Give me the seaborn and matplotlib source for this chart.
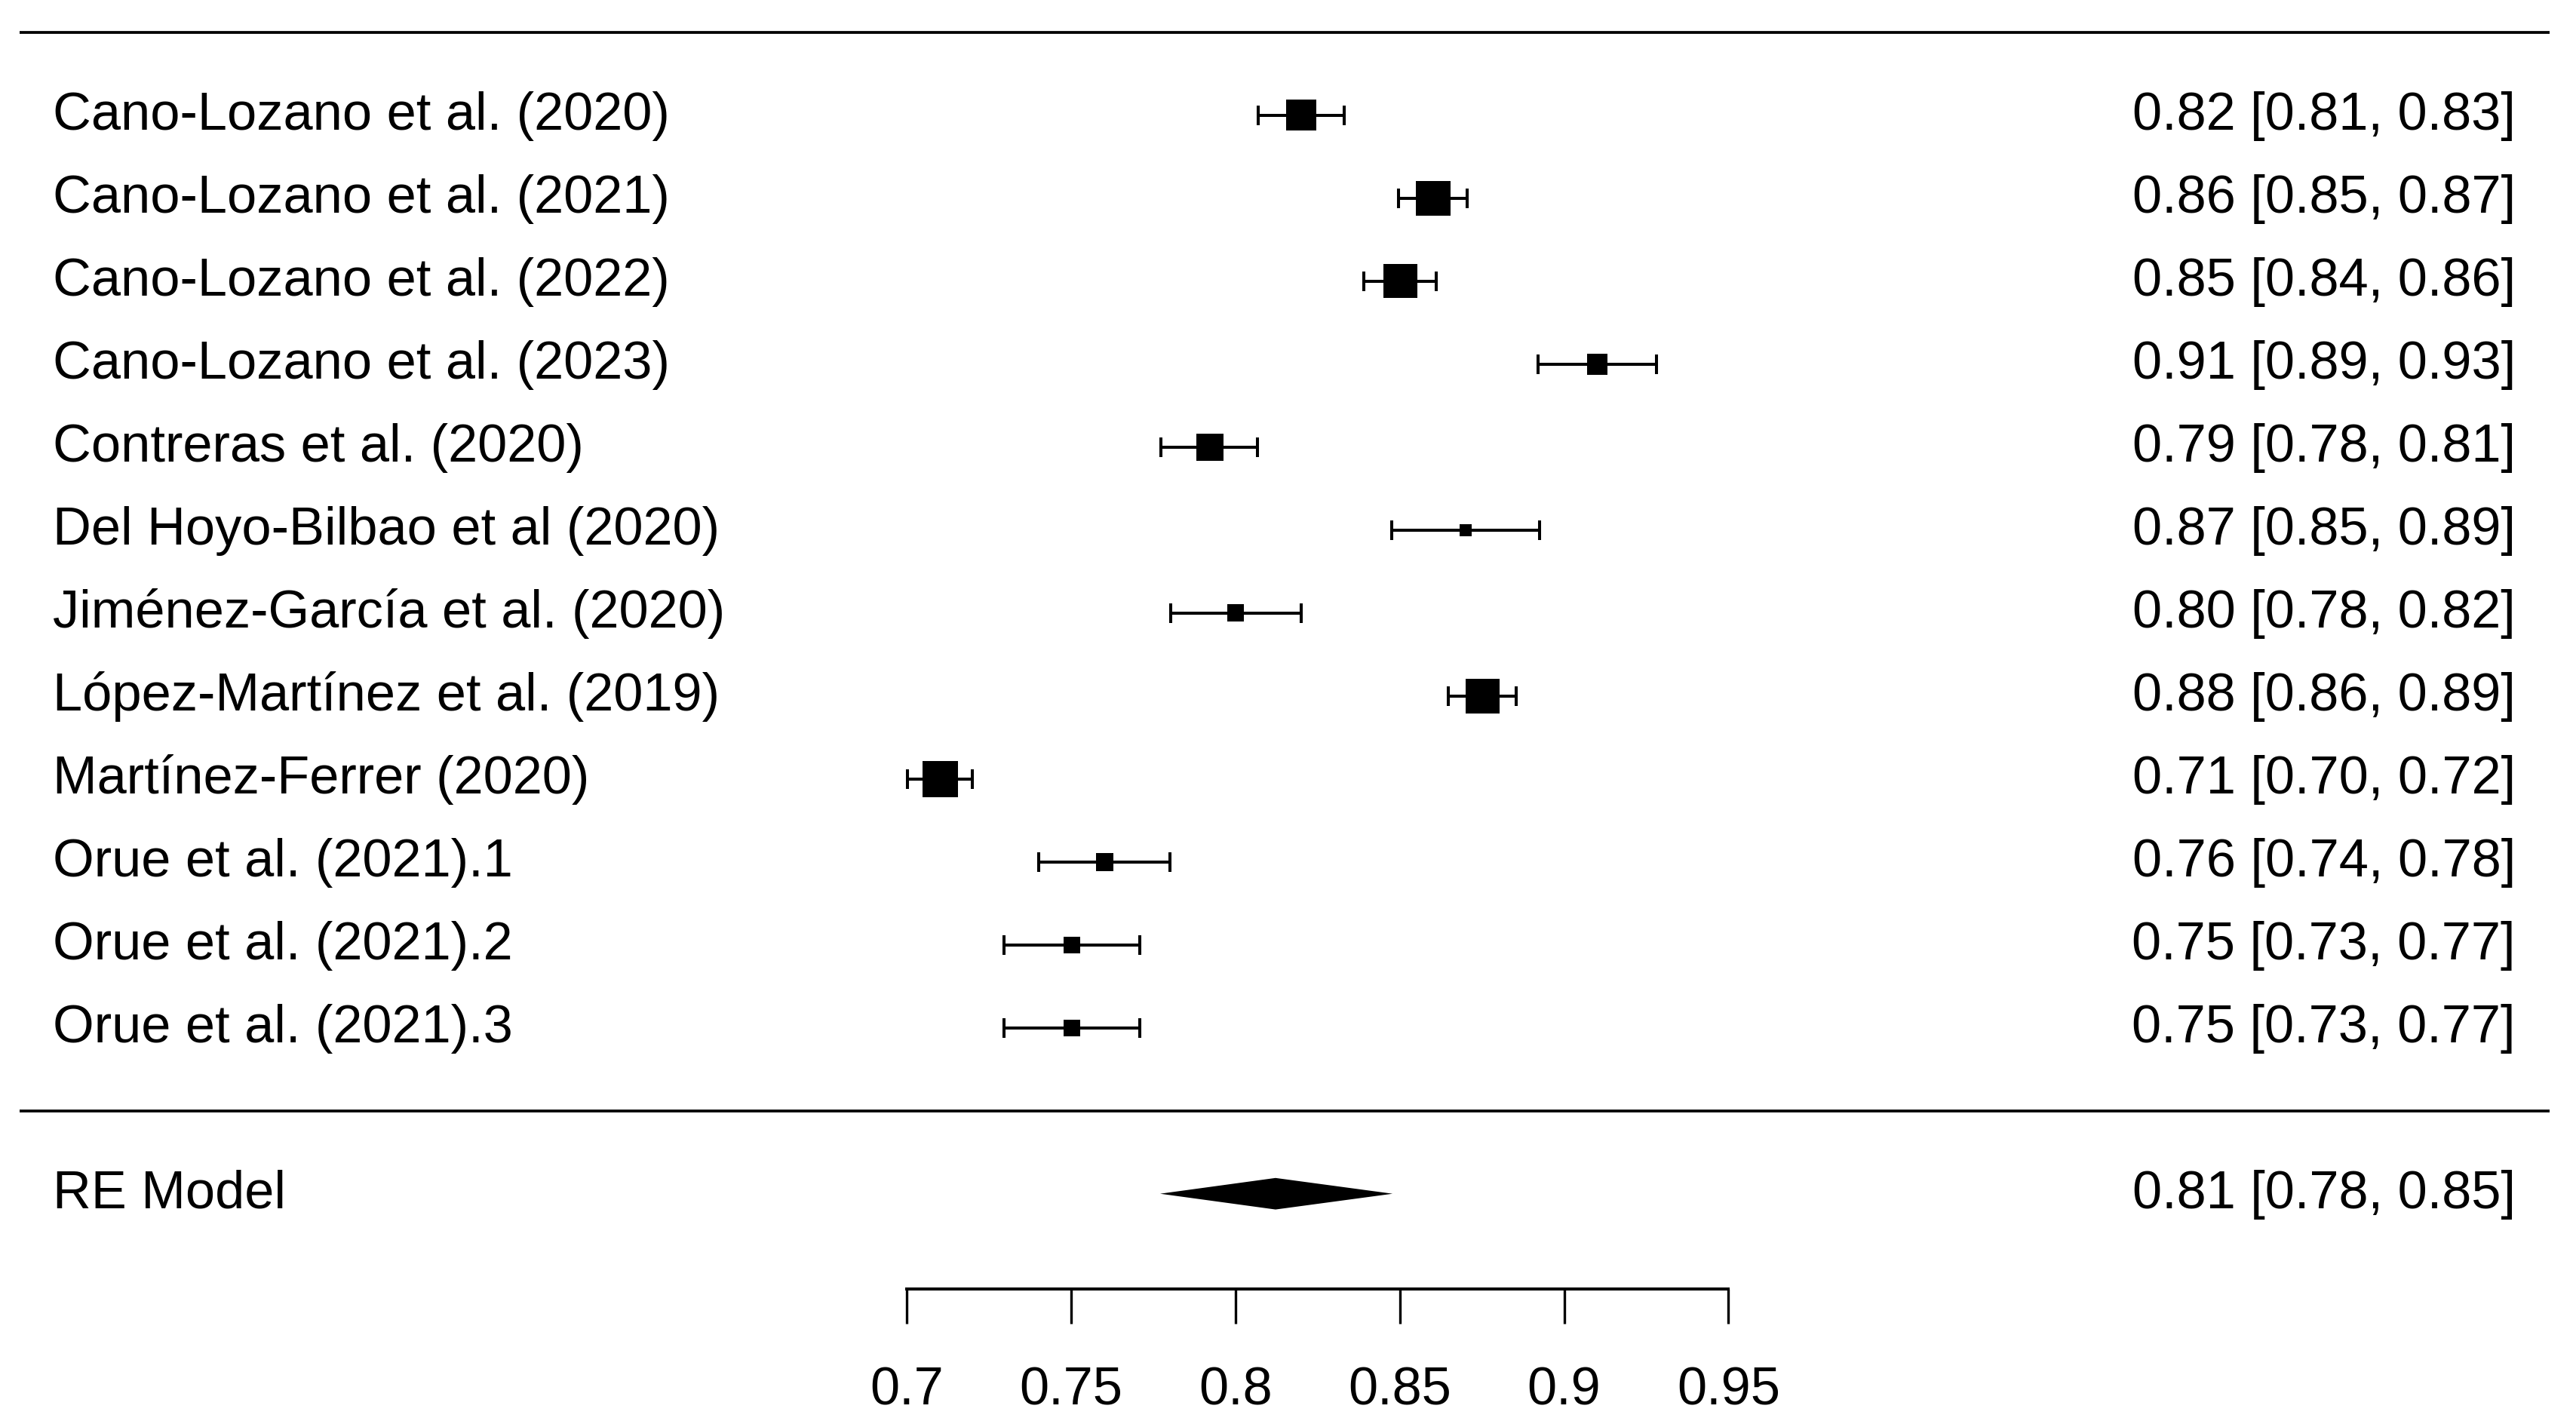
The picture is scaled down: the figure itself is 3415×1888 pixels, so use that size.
import numpy as np
import pandas as pd
import matplotlib
matplotlib.use("Agg")
import matplotlib.pyplot as plt
import matplotlib.transforms as mtransforms
import seaborn as sns

# ---------------- data ----------------
studies = [
    "Cano-Lozano et al. (2020)",
    "Cano-Lozano et al. (2021)",
    "Cano-Lozano et al. (2022)",
    "Cano-Lozano et al. (2023)",
    "Contreras et al. (2020)",
    "Del Hoyo-Bilbao et al (2020)",
    "Jiménez-García et al. (2020)",
    "López-Martínez et al. (2019)",
    "Martínez-Ferrer (2020)",
    "Orue et al. (2021).1",
    "Orue et al. (2021).2",
    "Orue et al. (2021).3",
]
estimate = [0.8200, 0.8601, 0.8502, 0.9101, 0.7922, 0.8701, 0.8001, 0.8752, 0.7102, 0.7602, 0.7502, 0.7502]
ci_lower = [0.8070, 0.8497, 0.8390, 0.8921, 0.7773, 0.8475, 0.7804, 0.8648, 0.7003, 0.7402, 0.7296, 0.7296]
ci_upper = [0.8330, 0.8705, 0.8610, 0.9280, 0.8068, 0.8925, 0.8200, 0.8853, 0.7199, 0.7800, 0.7708, 0.7708]
# relative study weight (drives square size, metafor-style psize)
weights = [1.35, 1.52, 1.49, 0.92, 1.19, 0.52, 0.75, 1.52, 1.59, 0.79, 0.72, 0.72]

re_label = "RE Model"
re_estimate = 0.8122
re_lower = 0.7771
re_upper = 0.8478

tick_values = [0.7, 0.75, 0.8, 0.85, 0.9, 0.95]
tick_labels = ["0.7", "0.75", "0.8", "0.85", "0.9", "0.95"]

# ---------------- style ----------------
sns.set_theme(style="white")
plt.rcParams["font.family"] = ["Liberation Sans", "DejaVu Sans"]

W, H, DPI = 3415, 1888, 100
FS = 50.7
LW = 2.9
SIDE_PT = 21.6  # square side (pt) for weight 1

k = len(studies)
rows = np.arange(k, 0, -1)  # top study on row k
df = pd.DataFrame({
    "study": studies,
    "est": estimate,
    "lo": ci_lower,
    "hi": ci_upper,
    "w": weights,
    "row": rows,
})

fig = plt.figure(figsize=(W / DPI, H / DPI), dpi=DPI)
fig.patch.set_facecolor("white")
ax = fig.add_axes([26 / W, 0, (3380 - 26) / W, 1])
ax.set_facecolor("white")

# CI bars
ax.errorbar(df["est"], df["row"],
            xerr=[df["est"] - df["lo"], df["hi"] - df["est"]],
            fmt="none", ecolor="black", elinewidth=LW,
            capsize=9.7, capthick=LW, zorder=2)

# study squares
sns.scatterplot(data=df, x="est", y="row", marker="s", color="black",
                s=(df["w"] * SIDE_PT) ** 2, linewidth=0, legend=False,
                ax=ax, zorder=3)

# summary diamond
h = 0.19
ax.fill([re_lower, re_estimate, re_upper, re_estimate],
        [-1, -1 + h, -1, -1 - h], color="black", lw=0, zorder=3)

# horizontal rules
ax.axhline(k + 1, color="black", lw=2.7)
ax.axhline(0, color="black", lw=2.7)

# text columns
trans = mtransforms.blended_transform_factory(ax.transAxes, ax.transData)
x_left = (70 - 26) / (3380 - 26)
x_right = (3335 - 26) / (3380 - 26)
base_off = 0.172
for _, r in df.iterrows():
    ax.text(x_left, r["row"] - base_off, r["study"], transform=trans,
            ha="left", va="baseline", fontsize=FS, color="black")
    ax.text(x_right, r["row"] - base_off,
            f"{r['est']:.2f} [{r['lo']:.2f}, {r['hi']:.2f}]",
            transform=trans, ha="right", va="baseline", fontsize=FS, color="black")
ax.text(x_left, -1 - base_off, re_label, transform=trans,
        ha="left", va="baseline", fontsize=FS, color="black")
ax.text(x_right, -1 - base_off,
        f"{re_estimate:.2f} [{re_lower:.2f}, {re_upper:.2f}]",
        transform=trans, ha="right", va="baseline", fontsize=FS, color="black")

# axes / scale
ax.set_xlim(0.7 - (1202 - 26) / 4358, 0.7 + (3380 - 1202) / 4358)
ax.set_ylim(1 - (H - 1362.7) / 110, 1 + 1362.7 / 110)
for s in ["top", "left", "right"]:
    ax.spines[s].set_visible(False)
ax.spines["bottom"].set_position(("data", -2.148))
ax.spines["bottom"].set_bounds(tick_values[0], tick_values[-1])
ax.spines["bottom"].set_linewidth(2.9)
ax.spines["bottom"].set_color("black")
ax.set_xticks(tick_values)
ax.set_xticklabels(tick_labels)
ax.tick_params(axis="x", direction="out", length=33, width=2.4, pad=41,
               labelsize=FS, colors="black", bottom=True)
ax.set_yticks([])
ax.set_xlabel("")
ax.set_ylabel("")
ax.grid(False)

fig.savefig("out.png", dpi=DPI, facecolor="white")
